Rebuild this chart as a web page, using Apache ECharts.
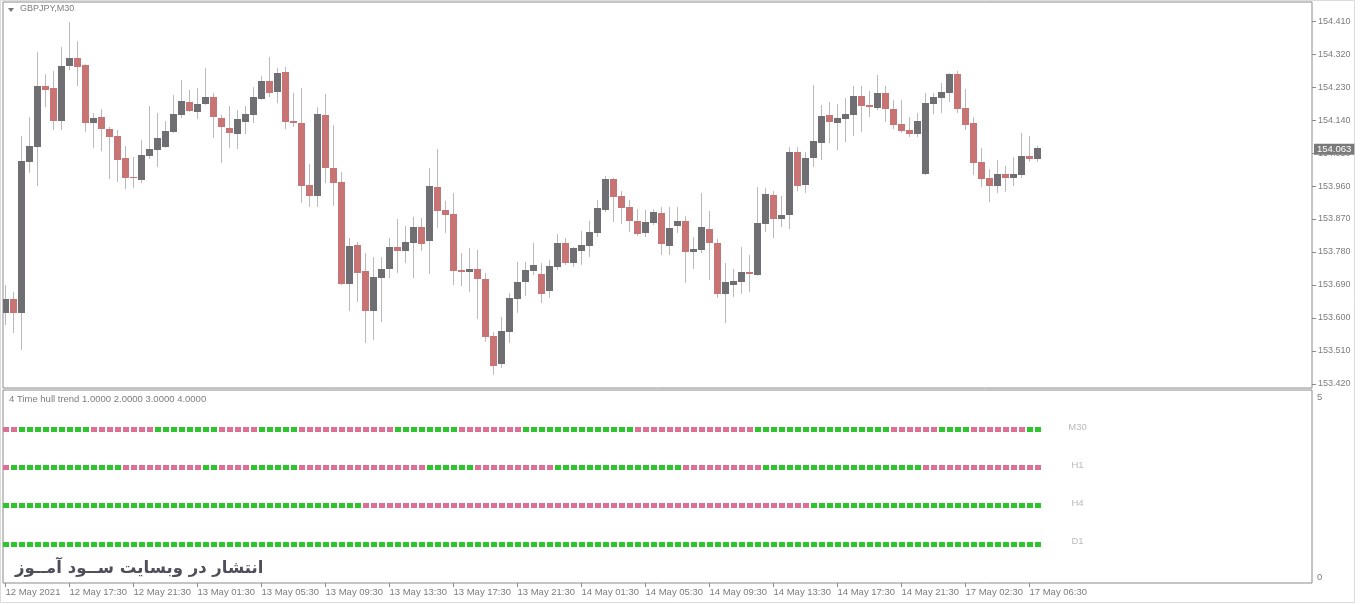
<!DOCTYPE html>
<html><head><meta charset="utf-8">
<script src="https://cdn.jsdelivr.net/npm/echarts@6/dist/echarts.min.js"></script>
<style>html,body{margin:0;padding:0;background:#fff;}#c{width:1360px;height:605px;}</style>
</head><body><div id="c"></div><script>
// ---- GBPJPY M30 candles (open, high, low, close) ----
const opens=[153.614,153.652,153.614,154.026,154.066,154.233,154.227,154.137,154.287,154.309,
154.290,154.132,154.148,154.115,154.096,154.036,153.985,153.976,154.042,154.058,
154.066,154.107,154.154,154.189,154.162,154.184,154.203,154.145,154.118,154.102,
154.135,154.154,154.197,154.246,154.216,154.271,154.137,154.132,153.963,153.933,
154.154,154.009,153.971,153.693,153.799,153.728,153.619,153.709,153.734,153.794,
153.783,153.805,153.848,153.810,153.957,153.895,153.884,153.731,153.726,153.734,
153.706,153.551,153.475,153.562,153.652,153.698,153.728,153.720,153.674,153.739,
153.805,153.750,153.783,153.796,153.832,153.895,153.979,153.933,153.903,153.865,
153.832,153.859,153.886,153.796,153.851,153.865,153.780,153.786,153.843,153.805,
153.666,153.690,153.698,153.726,153.717,153.856,153.936,153.870,153.881,154.053,
153.963,154.036,154.077,154.154,154.132,154.143,154.154,154.205,154.181,154.173,
154.214,154.170,154.129,154.113,154.102,153.993,154.184,154.200,154.214,154.265,
154.173,154.132,154.026,153.982,153.960,153.993,153.982,153.990,154.042,154.034];
const highs=[153.690,153.671,154.096,154.148,154.325,154.265,154.274,154.339,154.407,154.355,
154.292,154.159,154.170,154.121,154.113,154.069,154.039,154.085,154.178,154.159,
154.137,154.208,154.249,154.222,154.227,154.282,154.214,154.154,154.178,154.167,
154.178,154.230,154.260,154.312,154.282,154.285,154.214,154.227,154.020,154.175,
154.211,154.126,153.998,153.818,153.807,153.777,153.766,153.766,153.818,153.870,
153.851,153.876,153.873,154.009,154.061,153.920,153.941,153.777,153.791,153.786,
153.723,153.562,153.603,153.668,153.753,153.753,153.805,153.750,153.758,153.829,
153.818,153.794,153.837,153.865,153.922,153.987,153.982,153.946,153.922,153.897,
153.895,153.897,153.903,153.903,153.903,153.878,153.821,153.941,153.892,153.816,
153.750,153.734,153.794,153.772,153.957,153.955,153.946,153.933,154.066,154.066,
154.053,154.235,154.181,154.189,154.184,154.200,154.233,154.233,154.219,154.263,
154.233,154.195,154.195,154.148,154.159,154.214,154.214,154.241,154.268,154.274,
154.225,154.148,154.064,154.006,154.031,154.015,154.039,154.105,154.096,154.069];
const lows=[153.581,153.559,153.513,153.996,153.960,154.175,154.113,154.113,154.276,154.233,
154.107,154.064,154.055,153.979,153.971,153.952,153.955,153.968,154.034,154.012,
154.064,154.105,154.145,154.162,154.143,154.181,154.091,154.023,154.064,154.061,
154.102,154.132,154.195,154.203,154.186,154.115,154.121,153.914,153.903,153.903,
153.968,153.906,153.690,153.619,153.644,153.532,153.540,153.589,153.709,153.723,
153.750,153.709,153.783,153.720,153.846,153.832,153.690,153.687,153.671,153.597,
153.535,153.445,153.464,153.532,153.614,153.660,153.717,153.641,153.655,153.731,
153.745,153.739,153.745,153.766,153.821,153.889,153.862,153.856,153.835,153.824,
153.821,153.854,153.772,153.772,153.832,153.696,153.734,153.777,153.704,153.655,
153.586,153.657,153.666,153.671,153.715,153.835,153.818,153.848,153.843,153.946,
153.941,154.012,154.031,154.077,154.058,154.080,154.096,154.107,154.148,154.167,
154.135,154.115,154.105,154.094,154.094,153.990,154.156,154.159,154.189,154.159,
154.113,153.990,153.957,153.916,153.941,153.944,153.960,153.982,154.026,154.026];
const closes=[153.652,153.614,154.028,154.069,154.233,154.222,154.137,154.287,154.309,154.285,
154.132,154.145,154.115,154.094,154.031,153.982,153.984,154.045,154.061,154.091,
154.110,154.156,154.192,154.165,154.184,154.203,154.148,154.121,154.105,154.143,
154.156,154.203,154.246,154.214,154.268,154.135,154.132,153.960,153.933,154.156,
154.009,153.968,153.693,153.796,153.723,153.619,153.712,153.734,153.794,153.783,
153.807,153.848,153.802,153.960,153.892,153.881,153.728,153.726,153.734,153.706,
153.548,153.469,153.565,153.655,153.698,153.731,153.745,153.666,153.742,153.805,
153.750,153.791,153.799,153.835,153.900,153.979,153.930,153.900,153.865,153.829,
153.862,153.889,153.802,153.846,153.865,153.780,153.788,153.848,153.805,153.666,
153.698,153.701,153.726,153.720,153.859,153.938,153.870,153.881,154.053,153.960,
154.036,154.083,154.151,154.135,154.145,154.156,154.205,154.178,154.175,154.214,
154.170,154.126,154.110,154.102,154.137,154.186,154.203,154.216,154.265,154.170,
154.126,154.023,153.979,153.960,153.993,153.982,153.993,154.042,154.034,154.063];

// ---- axis tick labels ----
const priceTicks=[153.420,153.510,153.600,153.690,153.780,153.870,153.960,154.050,154.140,154.230,154.320,154.410];
const timeTickIndex=[0,8,16,24,32,40,48,56,64,72,80,88,96,104,112,120,128];
const timeTickLabels=['12 May 2021','12 May 17:30','12 May 21:30','13 May 01:30','13 May 05:30','13 May 09:30',
'13 May 13:30','13 May 17:30','13 May 21:30','14 May 01:30','14 May 05:30','14 May 09:30','14 May 13:30',
'14 May 17:30','14 May 21:30','17 May 02:30','17 May 06:30'];

// ---- "4 Time hull trend" indicator states (G = up / green, P = down / pink), as runs ----
const trendRows=['M30','H1','H4','D1'];
const trendRowLevel=[4,3,2,1];
const trendRunsM30=[['P',2],['G',9],['P',8],['G',8],['P',5],['G',5],['P',12],['G',8],['P',8],['G',14],['P',15],['G',17],['P',6],['G',4],['P',7],['G',2]];
const trendRunsH1=[['P',1],['G',14],['P',10],['G',2],['P',4],['G',6],['P',16],['G',6],['P',10],['G',16],['P',10],['G',20],['P',15]];
const trendRunsH4=[['G',45],['P',56],['G',29]];
const trendRunsD1=[['G',130]];

const BULL='#6f6f73', BEAR='#c97474', WICK='#b9b9b9';
const GREEN='#2bc62b', PINK='#dc6f93';
const AXIS_TXT='#7c7c7c';

const n=closes.length;
const candleData=closes.map((c,i)=>[i,opens[i],c,lows[i],highs[i]]);
function expand(runs){const out=[];runs.forEach(([s,len])=>{for(let j=0;j<len;j++)out.push(s);});return out;}
const trendAll=[trendRunsM30,trendRunsH1,trendRunsH4,trendRunsD1].map(expand);
const dotData=[];
trendAll.forEach((states,r)=>states.forEach((s,i)=>dotData.push([i,trendRowLevel[r],s])));
const rowLabelData=trendRows.map((name,r)=>[n+4,trendRowLevel[r],name]);

const GRID_W=1309, PX_PER_BAR=8;
const xMin=-0.3125, xMax=xMin+GRID_W/PX_PER_BAR;

const chart=echarts.init(document.getElementById('c'),null,{renderer:'canvas'});
chart.setOption({
  animation:false,
  backgroundColor:'#ffffff',
  textStyle:{fontFamily:'Liberation Sans'},
  title:[
    {text:'GBPJPY,M30',left:20,top:4,padding:0,textStyle:{fontSize:9,color:AXIS_TXT,fontWeight:'normal',fontFamily:'Liberation Sans'}},
    {text:'4 Time hull trend 1.0000 2.0000 3.0000 4.0000',left:9,top:394,padding:0,textStyle:{fontSize:9.5,color:AXIS_TXT,fontWeight:'normal',fontFamily:'Liberation Sans'}}
  ],
  grid:[
    {left:3,top:2,width:GRID_W,height:386,show:true,borderColor:'#8a8a8a',borderWidth:1,backgroundColor:'transparent'},
    {left:3,top:390,width:GRID_W,height:193,show:true,borderColor:'#8a8a8a',borderWidth:1,backgroundColor:'transparent'}
  ],
  xAxis:[
    {type:'value',gridIndex:0,min:xMin,max:xMax,show:false,axisLine:{onZero:false}},
    {type:'value',gridIndex:1,min:xMin,max:xMax,
      axisLine:{show:false,onZero:false},splitLine:{show:false},
      axisTick:{show:true,customValues:timeTickIndex,length:4,lineStyle:{color:'#8a8a8a'}},
      axisLabel:{show:true,customValues:timeTickIndex,align:'left',margin:4,fontSize:9.5,color:AXIS_TXT,fontFamily:'Liberation Sans',
        formatter:v=>timeTickLabels[timeTickIndex.indexOf(Math.round(v))]||''}}
  ],
  yAxis:[
    {type:'value',gridIndex:0,position:'right',min:153.409,max:154.462,
      axisLine:{show:false,onZero:false},splitLine:{show:false},
      axisTick:{show:true,customValues:priceTicks,length:4,lineStyle:{color:'#8a8a8a'}},
      axisLabel:{show:true,customValues:priceTicks,margin:6,fontSize:9,color:AXIS_TXT,fontFamily:'Liberation Sans',
        formatter:v=>v.toFixed(3)}},
    {type:'value',gridIndex:1,position:'right',min:-0.0263,max:5.0526,
      axisLine:{show:false,onZero:false},splitLine:{show:false},axisTick:{show:false},
      axisLabel:{show:true,customValues:[0,5],margin:5,fontSize:9.5,color:AXIS_TXT,fontFamily:'Liberation Sans',
        formatter:v=>v>2.5?'{t|5}':'{b|0}',
        rich:{t:{padding:[10,0,0,0],fontSize:9.5,color:AXIS_TXT},b:{padding:[0,0,10,0],fontSize:9.5,color:AXIS_TXT}}}}
  ],
  series:[
    {type:'custom',name:'GBPJPY',xAxisIndex:0,yAxisIndex:0,clip:true,data:candleData,
      encode:{x:0,y:[1,2,3,4]},
      renderItem:(params,api)=>{
        const k=api.value(0),o=api.value(1),c=api.value(2),l=api.value(3),h=api.value(4);
        const pO=api.coord([k,o]),pC=api.coord([k,c]),pL=api.coord([k,l]),pH=api.coord([k,h]);
        const x=Math.round(pO[0]-0.5)+0.5;
        let top=Math.round(Math.min(pO[1],pC[1])),bot=Math.round(Math.max(pO[1],pC[1]));
        if(bot-top<1)bot=top+1;
        return {type:'group',children:[
          {type:'line',shape:{x1:x,y1:pH[1],x2:x,y2:pL[1]},style:{stroke:WICK,lineWidth:1}},
          {type:'rect',shape:{x:x-3.5,y:top,width:7,height:bot-top},style:{fill:c>o?BULL:BEAR}}
        ]};
      }},
    {type:'line',name:'bid',xAxisIndex:0,yAxisIndex:0,clip:false,data:[[n-1,closes[n-1]]],symbol:'none',
      lineStyle:{color:'rgba(0,0,0,0)',width:0},silent:true,z:10,
      markLine:{silent:true,symbol:['none','none'],lineStyle:{color:'rgba(0,0,0,0)',width:0.01,type:'solid'},
        data:[{yAxis:closes[n-1]}],
        label:{show:true,position:'end',distance:2,formatter:closes[n-1].toFixed(3),backgroundColor:'#7a7a7a',color:'#ffffff',
          fontSize:9.5,fontFamily:'Liberation Sans',padding:[1,3,0,3],lineHeight:10}}},
    {type:'custom',name:'trend',xAxisIndex:1,yAxisIndex:1,data:dotData,encode:{x:0,y:1},
      renderItem:(params,api)=>{
        const p=api.coord([api.value(0),api.value(1)]);
        const s=dotData[params.dataIndex][2];
        return {type:'rect',shape:{x:Math.round(p[0]-3),y:Math.round(p[1]-2.5),width:6,height:5},style:{fill:s==='G'?GREEN:PINK}};
      }},
    {type:'scatter',name:'rows',xAxisIndex:1,yAxisIndex:1,data:rowLabelData,symbolSize:0,silent:true,
      label:{show:true,position:'inside',offset:[0,-3],formatter:p=>p.data[2],fontSize:9.5,color:'#a8a8a8',fontFamily:'Liberation Sans'}}
  ],
  graphic:[
    {type:'rect',silent:true,shape:{x:0.5,y:0.5,width:1354,height:602},style:{fill:'none',stroke:'#dcdcdc',lineWidth:1}},
    {type:'polygon',silent:true,shape:{points:[[8,8],[14,8],[11,12]]},style:{fill:'#777'}},
    {type:'text',silent:true,left:15,top:560,style:{text:'انتشار در وبسایت ســود آمــوز',font:'bold 16.5px "DejaVu Sans"',fill:'#4f4f5a'}}
  ]
});
</script></body></html>
